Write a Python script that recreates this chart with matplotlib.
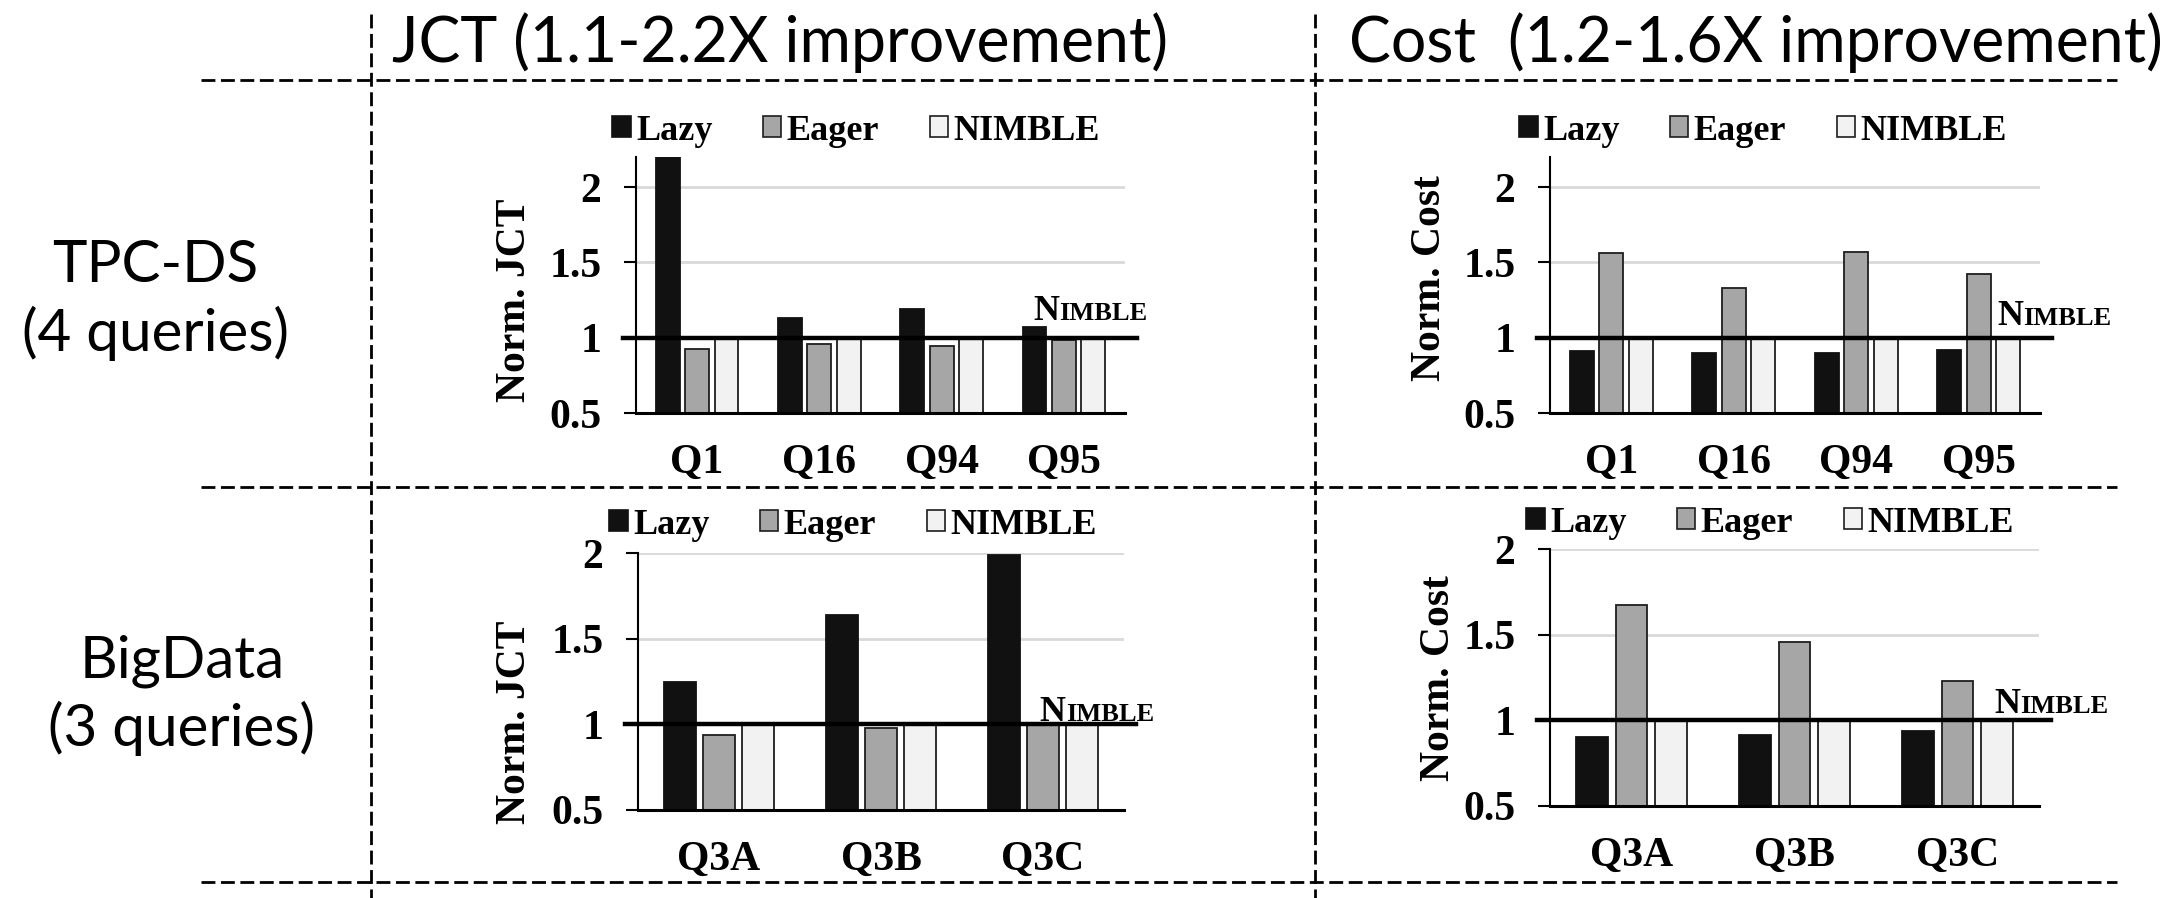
import matplotlib
matplotlib.use('Agg')
import matplotlib.pyplot as plt
from matplotlib.patches import Patch
from matplotlib.lines import Line2D
from matplotlib.offsetbox import TextArea, HPacker, AnnotationBbox
import numpy as np

# ---------------- data ----------------
series = ['Lazy', 'Eager', 'NIMBLE']
tpcds_queries = ['Q1', 'Q16', 'Q94', 'Q95']
bigdata_queries = ['Q3A', 'Q3B', 'Q3C']

tpcds_jct_lazy = [2.2, 1.13, 1.19, 1.07]
tpcds_jct_eager = [0.925, 0.955, 0.945, 0.985]
tpcds_jct_nimble = [1.0, 1.0, 1.0, 1.0]

tpcds_cost_lazy = [0.91, 0.90, 0.90, 0.92]
tpcds_cost_eager = [1.56, 1.33, 1.57, 1.42]
tpcds_cost_nimble = [1.0, 1.0, 1.0, 1.0]

bigdata_jct_lazy = [1.25, 1.64, 1.99]
bigdata_jct_eager = [0.94, 0.98, 0.995]
bigdata_jct_nimble = [1.0, 1.0, 1.0]

bigdata_cost_lazy = [0.905, 0.915, 0.935]
bigdata_cost_eager = [1.675, 1.46, 1.23]
bigdata_cost_nimble = [1.0, 1.0, 1.0]

col_titles = ['JCT (1.1-2.2X improvement)', 'Cost  (1.2-1.6X improvement)']
row_titles = ['TPC-DS\n(4 queries)', 'BigData\n(3 queries)']
ylabels = ['Norm. JCT', 'Norm. Cost']
yticks = [0.5, 1, 1.5, 2]
ytick_labels = ['0.5', '1', '1.5', '2']

# ---------------- style ----------------
W, H = 2170, 898
colors = ['#111111', '#a6a6a6', '#f2f2f2']
edges = ['#111111', '#1e1e1e', '#1e1e1e']
SERIF = 'Liberation Serif'
SANS = 'Lato'

fig = plt.figure(figsize=(W / 100, H / 100), dpi=100)


def fx(px):
    return px / W


def fy(py):
    return 1 - py / H


panels = [
    dict(rect=(636, 157, 1125, 413), q=tpcds_queries,
         vals=[tpcds_jct_lazy, tpcds_jct_eager, tpcds_jct_nimble],
         ylim=(0.5, 2.2), leg=(856, 131), ylab=(515, 300), label=ylabels[0],
         nim=(2.747, 1.067)),
    dict(rect=(1550, 157, 2040, 413), q=tpcds_queries,
         vals=[tpcds_cost_lazy, tpcds_cost_eager, tpcds_cost_nimble],
         ylim=(0.5, 2.2), leg=(1763, 131), ylab=(1430, 278), label=ylabels[1],
         nim=(3.149, 1.033)),
    dict(rect=(638, 553, 1124, 810), q=bigdata_queries,
         vals=[bigdata_jct_lazy, bigdata_jct_eager, bigdata_jct_nimble],
         ylim=(0.5, 2.0), leg=(853, 525), ylab=(515, 722), label=ylabels[0],
         nim=(1.98, 0.975)),
    dict(rect=(1550, 549, 2039, 806), q=bigdata_queries,
         vals=[bigdata_cost_lazy, bigdata_cost_eager, bigdata_cost_nimble],
         ylim=(0.5, 2.0), leg=(1770, 523), ylab=(1439, 678), label=ylabels[1],
         nim=(2.224, 0.995)),
]

bar_w = 0.195
offs = [-0.24, 0.0, 0.24]

for p in panels:
    l, t, r, b = p['rect']
    ax = fig.add_axes([fx(l), fy(b), (r - l) / W, (b - t) / H])
    x = np.arange(len(p['q']))
    for i, v in enumerate(p['vals']):
        ax.bar(x + offs[i], v, width=bar_w, bottom=0, color=colors[i],
               edgecolor=edges[i], linewidth=1.3, zorder=3)
    ax.set_xlim(-0.5, len(p['q']) - 0.5)
    ax.set_ylim(*p['ylim'])
    ax.set_yticks(yticks)
    ax.set_yticklabels(ytick_labels, fontfamily=SERIF, fontweight='bold', fontsize=30)
    ax.set_xticks(x)
    ax.set_xticklabels(p['q'], fontfamily=SERIF, fontweight='bold', fontsize=30)
    ax.tick_params(axis='x', length=0, pad=22)
    ax.tick_params(axis='y', length=9, width=1.5, pad=16, direction='out')
    ax.yaxis.grid(True, color='#d9d9d9', linewidth=2, zorder=0)
    ax.set_axisbelow(True)
    for s in ['top', 'right']:
        ax.spines[s].set_visible(False)
    ax.spines['left'].set_linewidth(1.5)
    ax.spines['bottom'].set_linewidth(2.2)
    ax.spines['bottom'].set_zorder(6)
    ax.axhline(1.0, xmin=-0.027, xmax=1.024, color='black', lw=3.2,
               clip_on=False, zorder=5)

    # NIMBLE label in small caps (shared baseline)
    ta1 = TextArea('N', textprops=dict(family=SERIF, weight='bold', size=26))
    ta2 = TextArea('IMBLE', textprops=dict(family=SERIF, weight='bold', size=19))
    box = HPacker(children=[ta1, ta2], align='baseline', pad=0, sep=0)
    ab = AnnotationBbox(box, p['nim'], xycoords='data', box_alignment=(0, 0),
                        frameon=False, pad=0, annotation_clip=False, zorder=7)
    ax.add_artist(ab)

    handles = [Patch(facecolor=colors[i], edgecolor=edges[i], linewidth=1.2)
               for i in range(3)]
    ax.legend(handles, series, loc='center',
              bbox_to_anchor=(fx(p['leg'][0]), fy(p['leg'][1])),
              bbox_transform=fig.transFigure, ncol=3, frameon=False,
              prop=dict(family=SERIF, weight='bold', size=26),
              handlelength=0.5, handleheight=0.5, handletextpad=0.15,
              columnspacing=1.4, borderpad=0, borderaxespad=0)

    fig.text(fx(p['ylab'][0]), fy(p['ylab'][1]), p['label'], rotation=90,
             ha='center', va='center', fontfamily=SERIF, fontweight='bold',
             fontsize=30)

# column titles
fig.text(fx(780), fy(62), col_titles[0], ha='center', va='baseline',
         fontfamily=SANS, fontsize=45)
fig.text(fx(1756), fy(62), col_titles[1], ha='center', va='baseline',
         fontfamily=SANS, fontsize=45)

# row titles
fig.text(fx(155), fy(300), row_titles[0], ha='center', va='center',
         fontfamily=SANS, fontsize=42, linespacing=1.32)
fig.text(fx(182), fy(695), row_titles[1], ha='center', va='center',
         fontfamily=SANS, fontsize=42, linespacing=1.28)

# dashed separators
dash = (0, (5, 2))
for yy in [80, 487, 882]:
    fig.add_artist(Line2D([fx(201), fx(2117)], [fy(yy), fy(yy)],
                          transform=fig.transFigure, ls=dash, lw=2, color='black'))
for xx in [371, 1315]:
    fig.add_artist(Line2D([fx(xx), fx(xx)], [fy(14), fy(898)],
                          transform=fig.transFigure, ls=dash, lw=2, color='black'))

fig.savefig('out.png', dpi=100)
